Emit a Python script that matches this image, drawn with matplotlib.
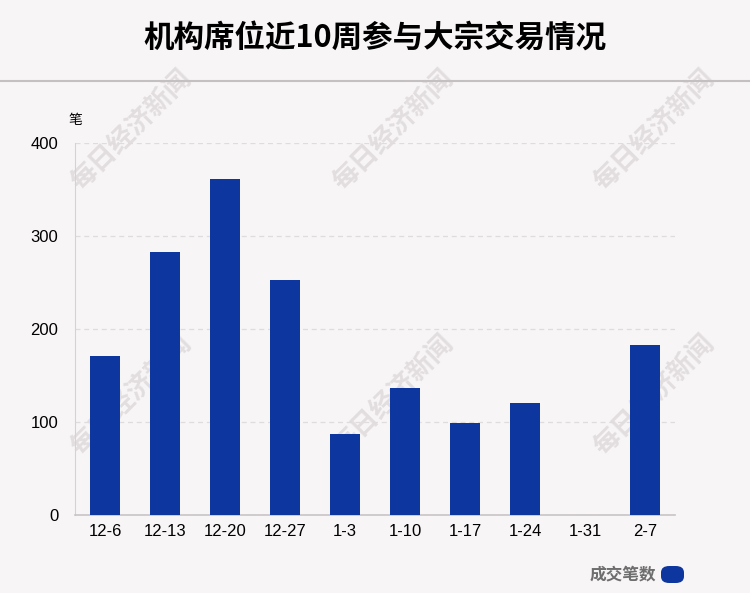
import matplotlib.pyplot as plt
from matplotlib.patches import FancyBboxPatch

plt.rcParams['font.family'] = ['Liberation Sans', 'Noto Sans CJK SC']

weeks = ['12-6', '12-13', '12-20', '12-27', '1-3', '1-10', '1-17', '1-24', '1-31', '2-7']
deals = [171, 283, 361, 253, 88, 137, 99, 121, 0, 183]
yticks = [0, 100, 200, 300, 400]

bg = '#f8f5f6'
bar_color = '#0d369e'

fig = plt.figure(figsize=(7.5, 5.93), dpi=100, facecolor=bg)
ax = fig.add_axes([0.1, 0.1307, 0.8, 0.628])
ax.set_facecolor('none')

# watermarks, drawn under the axes
for wx in [0.175, 0.525, 0.873]:
    for wy in [0.78, 0.333]:
        fig.text(wx, wy, '每日经济新闻', fontsize=19, fontweight='bold', color='#e2dedf',
                 rotation=45, ha='center', va='center', family=['Noto Sans CJK SC'], zorder=-1)

ax.bar(range(len(weeks)), deals, width=0.5, color=bar_color, zorder=3)

ax.set_xlim(-0.5, len(weeks) - 0.5)
ax.set_ylim(0, 400)
ax.set_xticks(range(len(weeks)))
ax.set_xticklabels(weeks, fontsize=12)
ax.set_yticks(yticks)
ax.set_yticklabels([str(t) for t in yticks], fontsize=12)
ax.tick_params(length=0, pad=6)
ax.tick_params(axis='y', pad=12)

for t in yticks[1:]:
    ax.axhline(t, color='#e0dcdd', lw=0.9, ls=(0, (4, 3)), zorder=1)

for s in ['top', 'right']:
    ax.spines[s].set_visible(False)
ax.spines['left'].set_color('#d6d2d3')
ax.spines['bottom'].set_color('#c8c4c5')
ax.spines['bottom'].set_linewidth(1.2)

fig.text(0.5, 0.936, '机构席位近10周参与大宗交易情况', ha='center', va='center',
         fontsize=22, fontweight='bold', family=['Noto Sans CJK SC'])
fig.add_artist(plt.Line2D([0, 1], [1 - 81 / 593, 1 - 81 / 593], color='#c4c0c1', lw=1.5))

fig.text(75 / 750, 1 - 120 / 593, '笔', ha='center', va='center', fontsize=10,
         family=['Noto Sans CJK SC'])

fig.text(656 / 750, 1 - 574 / 593, '成交笔数', ha='right', va='center', fontsize=12,
         fontweight='bold', color='#6e6e6e', family=['Noto Sans CJK SC'])
pill = FancyBboxPatch((661 / 750, 1 - 583 / 593), 23 / 750, 17 / 593,
                      boxstyle='round,pad=0,rounding_size=0.011', transform=fig.transFigure,
                      facecolor=bar_color, edgecolor='none')
fig.add_artist(pill)

fig.savefig('out.png', dpi=100, facecolor=bg)
